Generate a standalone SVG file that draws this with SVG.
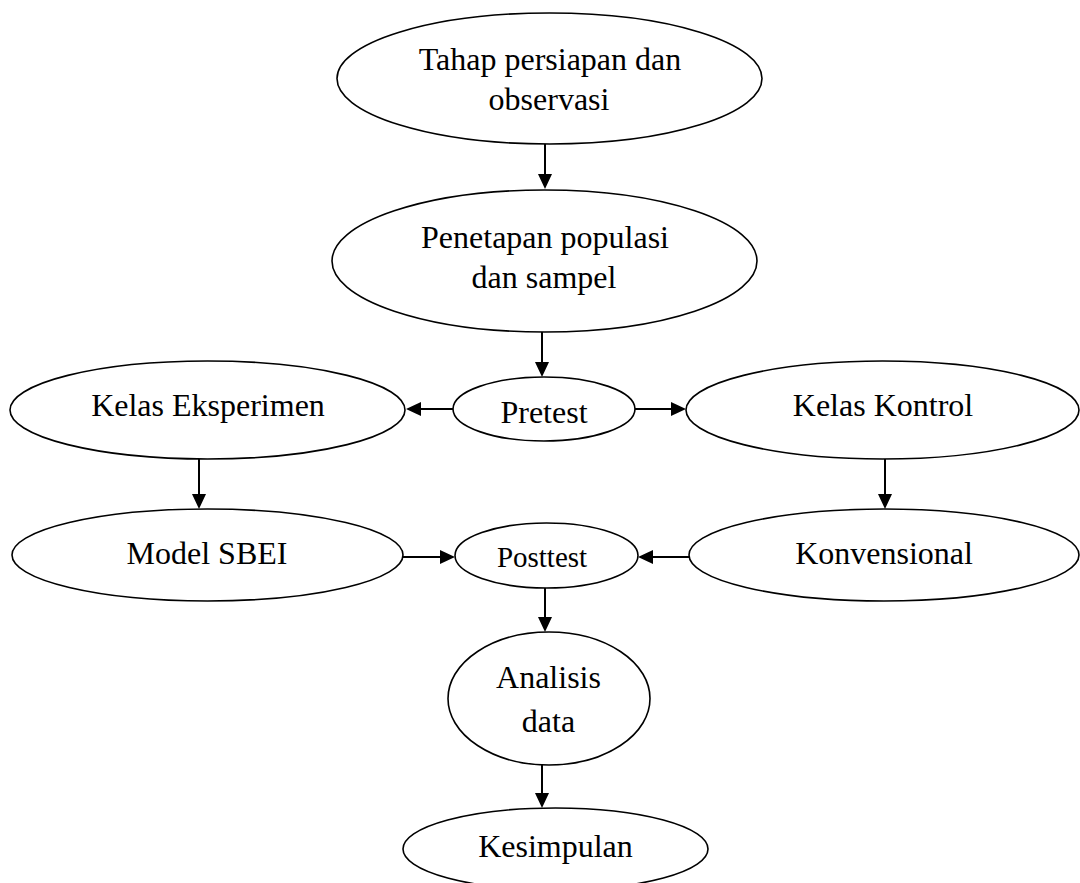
<svg xmlns="http://www.w3.org/2000/svg" width="1080" height="883" viewBox="0 0 1080 883">
<style>
.n ellipse{fill:#fff;stroke:#000;stroke-width:1.6}
.n text{font-family:"Liberation Serif","Times New Roman",serif;font-size:32px;fill:#000;text-anchor:middle}
.c line{stroke:#000;stroke-width:2;marker-end:url(#ah)}
</style>
<defs>
<marker id="ah" viewBox="0 0 15 14" refX="1" refY="7" markerWidth="15" markerHeight="14" markerUnits="userSpaceOnUse" orient="auto">
<path d="M0,0 L15,7 L0,14 z" fill="#000"/>
</marker>
</defs>
<rect width="1080" height="883" fill="#fff"/>
<g class="c">
<line x1="545" y1="144" x2="545" y2="175"/>
<line x1="542" y1="332" x2="542" y2="363"/>
<line x1="453" y1="409" x2="420" y2="409"/>
<line x1="635" y1="409" x2="672" y2="409"/>
<line x1="199" y1="459" x2="199" y2="495"/>
<line x1="885" y1="459" x2="885" y2="495"/>
<line x1="403" y1="557" x2="441" y2="557"/>
<line x1="689" y1="557" x2="652" y2="557"/>
<line x1="545" y1="588" x2="545" y2="618"/>
<line x1="542" y1="765" x2="542" y2="794"/>
</g>
<g id="n1" class="n"><ellipse cx="549.5" cy="78.5" rx="212.5" ry="65.5"/><text x="550" y="70">Tahap persiapan dan</text><text x="549" y="110">observasi</text></g>
<g id="n2" class="n"><ellipse cx="544.5" cy="261" rx="212.5" ry="71"/><text x="545" y="248">Penetapan populasi</text><text x="544" y="288">dan sampel</text></g>
<g id="n3" class="n"><ellipse cx="544" cy="409" rx="91" ry="32"/><text x="544" y="423">Pretest</text></g>
<g id="n4" class="n"><ellipse cx="207.5" cy="410" rx="197.5" ry="49"/><text x="208" y="416">Kelas Eksperimen</text></g>
<g id="n5" class="n"><ellipse cx="882.5" cy="410" rx="196.5" ry="49"/><text x="883" y="416">Kelas Kontrol</text></g>
<g id="n6" class="n"><ellipse cx="207.5" cy="555" rx="195.5" ry="46"/><text x="207" y="564">Model SBEI</text></g>
<g id="n7" class="n"><ellipse cx="546.5" cy="555.5" rx="91.5" ry="32.5"/><text x="542" y="567" style="font-size:29px">Posttest</text></g>
<g id="n8" class="n"><ellipse cx="884" cy="555" rx="195" ry="46"/><text x="884" y="564">Konvensional</text></g>
<g id="n9" class="n"><ellipse cx="549" cy="698.5" rx="101" ry="66.5"/><text x="548.5" y="688">Analisis</text><text x="548.5" y="732">data</text></g>
<g id="n10" class="n"><ellipse cx="555.5" cy="849" rx="152.5" ry="41"/><text x="555.5" y="857">Kesimpulan</text></g>
</svg>
